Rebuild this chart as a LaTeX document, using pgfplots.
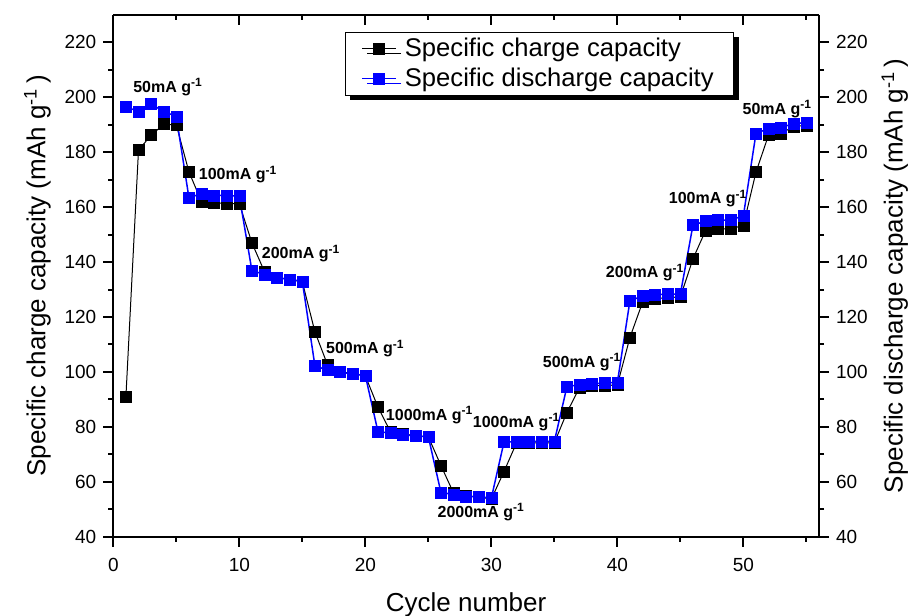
\documentclass[border=0pt]{standalone}
\usepackage{fontspec}
\setmainfont{Liberation Sans}
\usepackage{pgfplots}
\usepackage{pgfplotstable}
\pgfplotsset{compat=1.18}
\usetikzlibrary{shadows}

\pgfplotstableread{
x ch dis
1 90.9 196.5
2 180.8 194.9
3 186.2 197.5
4 190.2 194.9
5 190.0 193.0
6 172.9 163.5
7 162.0 164.9
8 161.7 164.3
9 161.3 164.3
10 161.3 164.0
11 147.0 136.9
12 136.5 135.5
13 134.4 134.3
14 133.7 133.7
15 132.8 133.0
16 114.6 102.2
17 102.6 100.7
18 100.1 99.9
19 99.4 99.3
20 98.6 98.7
21 87.2 78.3
22 78.2 77.7
23 77.5 77.1
24 76.7 76.7
25 76.4 76.4
26 65.9 56.1
27 55.9 55.4
28 54.8 54.7
29 54.5 54.5
30 53.7 54.1
31 63.7 74.4
32 74.2 74.7
33 74.2 74.7
34 74.2 74.7
35 74.2 74.7
36 85.3 94.7
37 94.3 95.3
38 95.0 95.7
39 95.0 96.0
40 95.3 96.2
41 112.6 126.0
42 125.4 127.6
43 126.7 128.2
44 127.1 128.3
45 127.3 128.4
46 141.2 153.5
47 151.5 154.9
48 152.1 155.3
49 152.1 155.3
50 153.4 156.9
51 172.8 186.9
52 186.3 188.6
53 186.9 189.0
54 189.4 190.5
55 189.8 190.8
}\capdata

\pgfplotsset{
  common/.style={
    scale only axis, width=352.85pt, height=260.85pt,
    xmin=0, xmax=56, ymin=40, ymax=230,
    axis line style={line width=1pt, -},
    tick style={line width=1pt, black},
    major tick length=5pt, minor tick length=2.5pt,
    xtick={0,10,...,50}, minor xtick={5,15,...,55},
    ytick={40,60,...,220}, minor ytick={50,70,...,210},
    tick label style={font=\fontsize{9.5}{11}\selectfont},
    label style={font=\fontsize{13}{15}\selectfont},
    /pgf/number format/assume math mode=true,
  },
}

\begin{document}
\begin{tikzpicture}
\useasboundingbox (-56.65pt,-39.15pt) rectangle (400.35pt,268.35pt);
\begin{axis}[common,
  axis x line*=bottom, axis y line*=left, tick align=outside,
  xticklabel style={yshift=-2pt},
  xlabel={Cycle number}, xlabel style={yshift=-4pt},
  ylabel={Specific charge capacity (mAh g\textsuperscript{-1}\,)},
  legend cell align=left,
  legend style={at={(0.328,0.968)}, anchor=north west,
    draw=black, line width=0.5pt, fill=white,
    font=\fontsize{12.8}{15}\selectfont,
    inner xsep=8pt, inner ysep=1pt, column sep=2pt,
    drop shadow={shadow xshift=2.5pt, shadow yshift=-2.5pt, fill=black, opacity=1}},
]
\addplot[black, line width=0.5pt, mark=square*, mark size=2.75pt,
  mark options={fill=black, line width=0.3pt}] table[x=x, y=ch] {\capdata};
\addlegendentry{Specific charge capacity}
\addplot[blue, line width=0.75pt, mark=square*, mark size=2.75pt,
  mark options={fill=blue, line width=0.3pt}] table[x=x, y=dis] {\capdata};
\addlegendentry{Specific discharge capacity}

\begin{scope}[every node/.style={font=\bfseries\fontsize{8}{9}\selectfont, inner sep=0pt}]
\node at (axis cs:4.34,203.7) {50mA g\textsuperscript{-1}};
\node at (axis cs:9.9,171.9) {100mA g\textsuperscript{-1}};
\node at (axis cs:14.9,143.1) {200mA g\textsuperscript{-1}};
\node at (axis cs:20.0,108.5) {500mA g\textsuperscript{-1}};
\node at (axis cs:25.1,84.4) {1000mA g\textsuperscript{-1}};
\node at (axis cs:29.2,49.0) {2000mA g\textsuperscript{-1}};
\node at (axis cs:32.0,81.8) {1000mA g\textsuperscript{-1}};
\node at (axis cs:37.2,103.7) {500mA g\textsuperscript{-1}};
\node at (axis cs:42.2,136.2) {200mA g\textsuperscript{-1}};
\node at (axis cs:47.2,163.1) {100mA g\textsuperscript{-1}};
\node at (axis cs:52.7,195.7) {50mA g\textsuperscript{-1}};
\end{scope}
\end{axis}

\begin{axis}[common,
  axis y line*=right, hide x axis, tick align=outside,
  ylabel={Specific discharge capacity (mAh g\textsuperscript{-1}\,)},
]
\end{axis}

\begin{axis}[common,
  axis x line*=top, hide y axis, tick align=inside,
  xticklabels={},
]
\end{axis}
\end{tikzpicture}
\end{document}
